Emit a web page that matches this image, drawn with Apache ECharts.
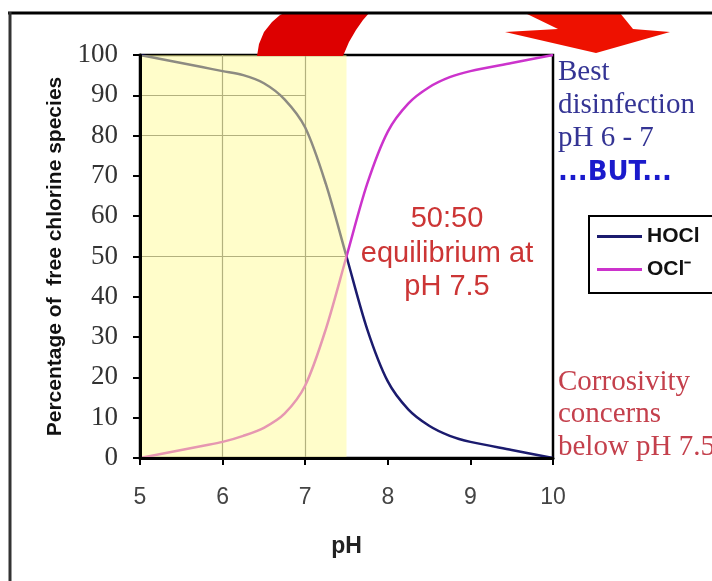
<!DOCTYPE html>
<html>
<head>
<meta charset="utf-8">
<script src="https://cdn.jsdelivr.net/npm/echarts@6/dist/echarts.min.js"></script>
<style>html,body{margin:0;padding:0;background:#fff;}#c{width:712px;height:581px;}</style>
</head>
<body>
<div id="c"></div>
<script>
// pH values (x) and species percentages
const phValues = [5, 5.25, 5.5, 5.75, 6, 6.25, 6.5, 6.75, 7, 7.25, 7.5, 7.75, 8, 8.25, 8.5, 8.75, 9, 9.5, 10];
const hoclPct  = [100, 99, 98, 97, 96, 95, 93, 89, 82, 68, 50, 32, 19, 12, 8, 5.5, 4, 2, 0];
const oclPct   = [0, 1, 2, 3, 4, 5.5, 7.5, 11, 18, 32, 50, 68, 81, 88, 92, 94.5, 96, 98, 100];
const seriesNames = ['HOCl', 'OCl\u207B'];
const xTicks = [5, 6, 7, 8, 9, 10];
const yTicks = [0, 10, 20, 30, 40, 50, 60, 70, 80, 90, 100];
const bestRange = [5, 7.5];
const guideLines = [[6, 0, 6, 100], [7, 0, 7, 100], [5, 90, 7, 90], [5, 80, 7, 80], [5, 50, 7.5, 50]];

const chart = echarts.init(document.getElementById('c'));
const serif = "'Liberation Serif','Times New Roman',serif";
const sans = "'Liberation Sans',Arial,sans-serif";

const option = {
  animation: false,
  backgroundColor: '#fff',
  grid: { left: 140, right: 159, top: 55, bottom: 123, show: true, borderColor: '#000', borderWidth: 2.5, backgroundColor: 'transparent' },
  legend: {
    data: seriesNames,
    orient: 'vertical',
    left: 589, top: 216,
    borderColor: '#000', borderWidth: 2,
    padding: [10, 70, 13, 8],
    itemWidth: 45, itemHeight: 3, itemGap: 12,
    icon: 'rect',
    textStyle: { fontFamily: sans, fontWeight: 'bold', fontSize: 21, color: '#111' }
  },
  xAxis: {
    type: 'value', min: xTicks[0], max: xTicks[xTicks.length - 1], interval: 1, z: 10,
    name: 'pH', nameLocation: 'middle', nameGap: 77,
    nameTextStyle: { fontFamily: sans, fontWeight: 'bold', fontSize: 23, color: '#222' },
    axisLine: { lineStyle: { color: '#000', width: 3 } },
    axisTick: { show: true, length: 7, lineStyle: { color: '#000', width: 2 } },
    axisLabel: { margin: 28, fontFamily: sans, fontSize: 23, color: '#444' },
    splitLine: { show: false }
  },
  yAxis: {
    type: 'value', min: yTicks[0], max: yTicks[yTicks.length - 1], interval: 10, z: 10,
    name: 'Percentage of  free chlorine species', nameLocation: 'middle', nameGap: 74,
    nameTextStyle: { fontFamily: sans, fontWeight: 'bold', fontSize: 21, color: '#111' },
    axisLine: { lineStyle: { color: '#000', width: 3 } },
    axisTick: { show: true, length: 7, lineStyle: { color: '#000', width: 2 } },
    axisLabel: { margin: 22, fontFamily: serif, fontSize: 27, color: '#333' },
    splitLine: { show: false }
  },
  series: [
    {
      name: seriesNames[0], type: 'line', smooth: 0.3, symbol: 'none', z: 2,
      color: '#1b1b6e',
      lineStyle: { width: 2.5, color: '#1b1b6e' },
      data: phValues.map((p, i) => [p, hoclPct[i]]),
      markLine: {
        z: 1,
        silent: true, symbol: 'none', label: { show: false },
        lineStyle: { color: '#666', width: 1.2, type: 'solid' },
        data: guideLines.map(g => [{ coord: [g[0], g[1]] }, { coord: [g[2], g[3]] }])
      }
    },
    {
      name: seriesNames[1], type: 'line', smooth: 0.3, symbol: 'none', z: 2,
      color: '#cc33cc',
      lineStyle: { width: 2.5, color: '#cc33cc' },
      data: phValues.map((p, i) => [p, oclPct[i]])
    },
    {
      name: 'range', type: 'line', data: [], z: 5,
      markArea: {
        z: 5,
        silent: true,
        itemStyle: { color: 'rgba(255,252,150,0.5)' },
        data: [[{ xAxis: bestRange[0], yAxis: 0 }, { xAxis: bestRange[1], yAxis: 100 }]]
      }
    }
  ],
  graphic: [
    // red curved arrow (decoration)
    { type: 'polygon', z: 50, shape: { points: [[257, 56], [259, 44], [264, 32], [272, 22], [280, 15], [286, 12], [370, 12], [363, 20], [356, 30], [349, 42], [343, 56]] }, style: { fill: '#dd0000' } },
    // red down arrow (decoration)
    { type: 'polygon', z: 50, shape: { points: [[525, 13], [558, 29], [505, 32], [596, 53], [670, 32], [633, 29], [620, 13]] }, style: { fill: '#ee1100' } },
    // frame
    { type: 'line', z: 60, shape: { x1: 8, y1: 13, x2: 712, y2: 13 }, style: { stroke: '#000', lineWidth: 3 } },
    { type: 'line', z: 60, shape: { x1: 10, y1: 12, x2: 10, y2: 581 }, style: { stroke: '#333', lineWidth: 3 } },
    // annotations
    { type: 'text', z: 40, style: { x: 447, y: 219, text: '50:50', font: '29px ' + sans, fill: '#cc3535', textAlign: 'center', textVerticalAlign: 'middle' } },
    { type: 'text', z: 40, style: { x: 447, y: 254, text: 'equilibrium at', font: '29px ' + sans, fill: '#cc3535', textAlign: 'center', textVerticalAlign: 'middle' } },
    { type: 'text', z: 40, style: { x: 447, y: 287, text: 'pH 7.5', font: '29px ' + sans, fill: '#cc3535', textAlign: 'center', textVerticalAlign: 'middle' } },
    { type: 'text', z: 40, style: { x: 558, y: 72, text: 'Best', font: '29px ' + serif, fill: '#343494', textAlign: 'left', textVerticalAlign: 'middle' } },
    { type: 'text', z: 40, style: { x: 558, y: 105, text: 'disinfection', font: '29px ' + serif, fill: '#343494', textAlign: 'left', textVerticalAlign: 'middle' } },
    { type: 'text', z: 40, style: { x: 558, y: 138, text: 'pH 6 - 7', font: '29px ' + serif, fill: '#343494', textAlign: 'left', textVerticalAlign: 'middle' } },
    { type: 'text', z: 40, style: { x: 558, y: 173, text: '...BUT...', font: 'bold 26px "DejaVu Sans",sans-serif', fill: '#1a1acc', textAlign: 'left', textVerticalAlign: 'middle' } },
    { type: 'text', z: 40, style: { x: 558, y: 382, text: 'Corrosivity', font: '29px ' + serif, fill: '#c4404c', textAlign: 'left', textVerticalAlign: 'middle' } },
    { type: 'text', z: 40, style: { x: 558, y: 414, text: 'concerns', font: '29px ' + serif, fill: '#c4404c', textAlign: 'left', textVerticalAlign: 'middle' } },
    { type: 'text', z: 40, style: { x: 558, y: 447, text: 'below pH 7.5', font: '29px ' + serif, fill: '#c4404c', textAlign: 'left', textVerticalAlign: 'middle' } }
  ]
};
chart.setOption(option);
</script>
</body>
</html>
